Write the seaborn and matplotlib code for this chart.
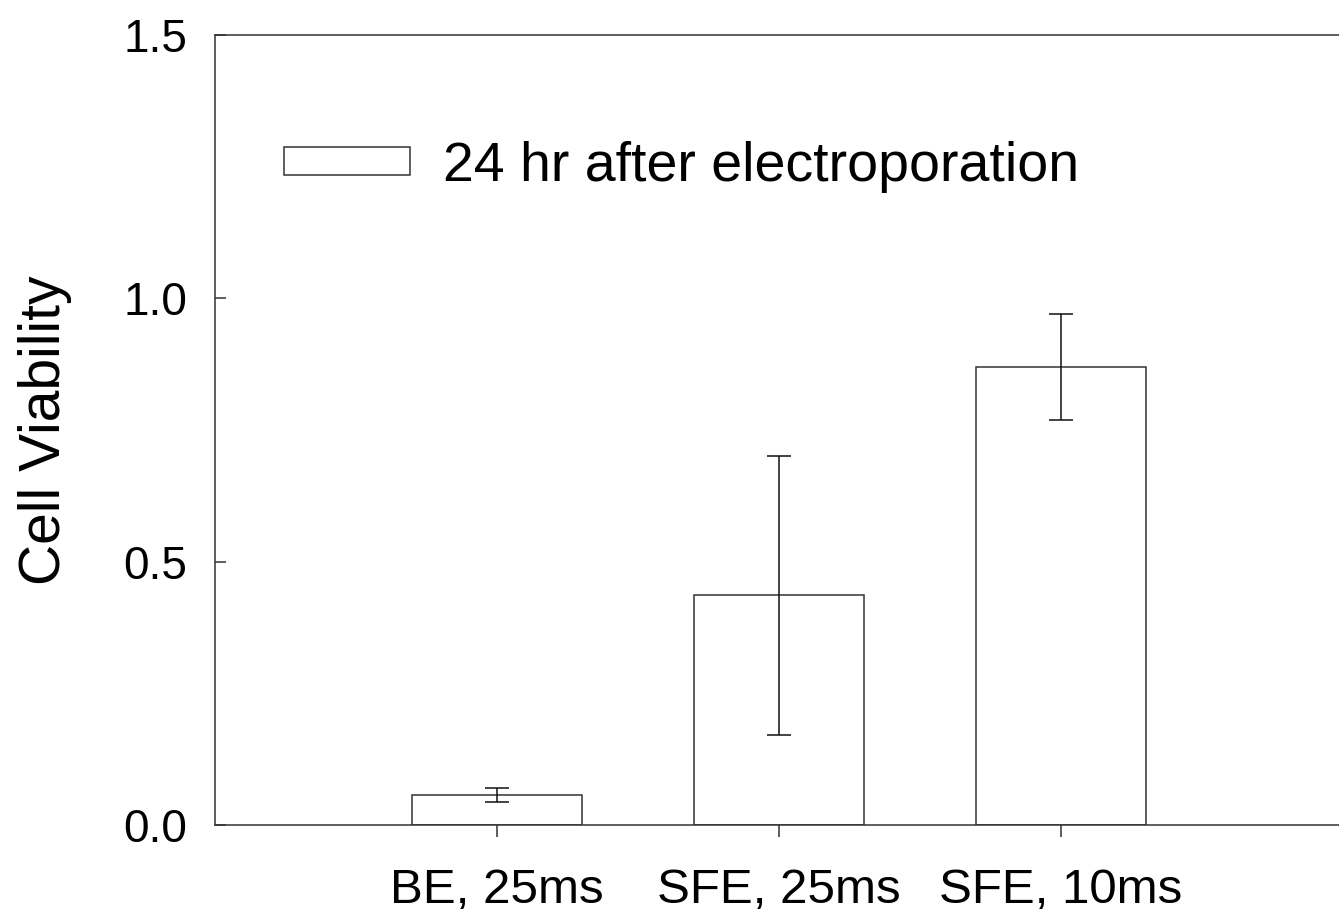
import numpy as np
import pandas as pd
import matplotlib
matplotlib.use('Agg')
import matplotlib.pyplot as plt
import seaborn as sns

# data
categories = ['BE, 25ms', 'SFE, 25ms', 'SFE, 10ms']
viability = [0.057, 0.436, 0.870]
viability_err = [0.014, 0.265, 0.101]
series_label = '24 hr after electroporation'
y_ticks = [0.0, 0.5, 1.0, 1.5]

df = pd.DataFrame({'Condition': categories, 'Viability': viability})

sns.set_style('white')
plt.rcParams['font.family'] = ['Liberation Sans', 'DejaVu Sans']
plt.rcParams['text.color'] = 'black'
plt.rcParams['axes.labelcolor'] = 'black'
plt.rcParams['xtick.labelcolor'] = 'black'
plt.rcParams['ytick.labelcolor'] = 'black'

line_col = '#333333'

fig = plt.figure(figsize=(13.39, 9.16), dpi=100)
ax = fig.add_axes([0.1606, 0.0993, 0.8394, 0.8624])

sns.barplot(data=df, x='Condition', y='Viability', color='white',
            edgecolor=line_col, linewidth=1.1, width=0.6, errorbar=None,
            label=series_label, ax=ax)

# error bars at the centres of the bars seaborn drew
centres = [p.get_x() + p.get_width() / 2 for p in ax.patches]
ax.errorbar(centres, viability, yerr=viability_err, fmt='none',
            ecolor='#111111', elinewidth=1.1, capsize=8.5, capthick=1.1)

ax.set_xlim(-1, 2.986)
ax.set_ylim(0, 1.5)
ax.set_yticks(y_ticks)
ax.set_yticklabels([f'{v:.1f}' for v in y_ticks])

for side in ['left', 'bottom', 'top']:
    ax.spines[side].set_color(line_col)
    ax.spines[side].set_linewidth(1.1)
ax.spines['right'].set_visible(False)

ax.tick_params(axis='y', direction='in', length=8, width=1.1, color=line_col,
               labelsize=33, pad=20, right=False, left=True, labelcolor='black')
ax.tick_params(axis='x', direction='out', length=8.6, width=1.1, color=line_col,
               labelsize=35.5, pad=22, bottom=True, top=False, labelcolor='black')

ax.set_xlabel('')
ax.set_ylabel('Cell Viability', fontsize=41, color='black')
ax.yaxis.set_label_coords(-0.127, 0.5)

leg = ax.legend(loc='center left', bbox_to_anchor=(0.0614, 0.833), frameon=False,
                fontsize=40, borderpad=0, borderaxespad=0,
                handlelength=2.27, handleheight=0.41, handletextpad=0.59)
for t in leg.get_texts():
    t.set_color('black')

fig.savefig('out.png', dpi=100)
